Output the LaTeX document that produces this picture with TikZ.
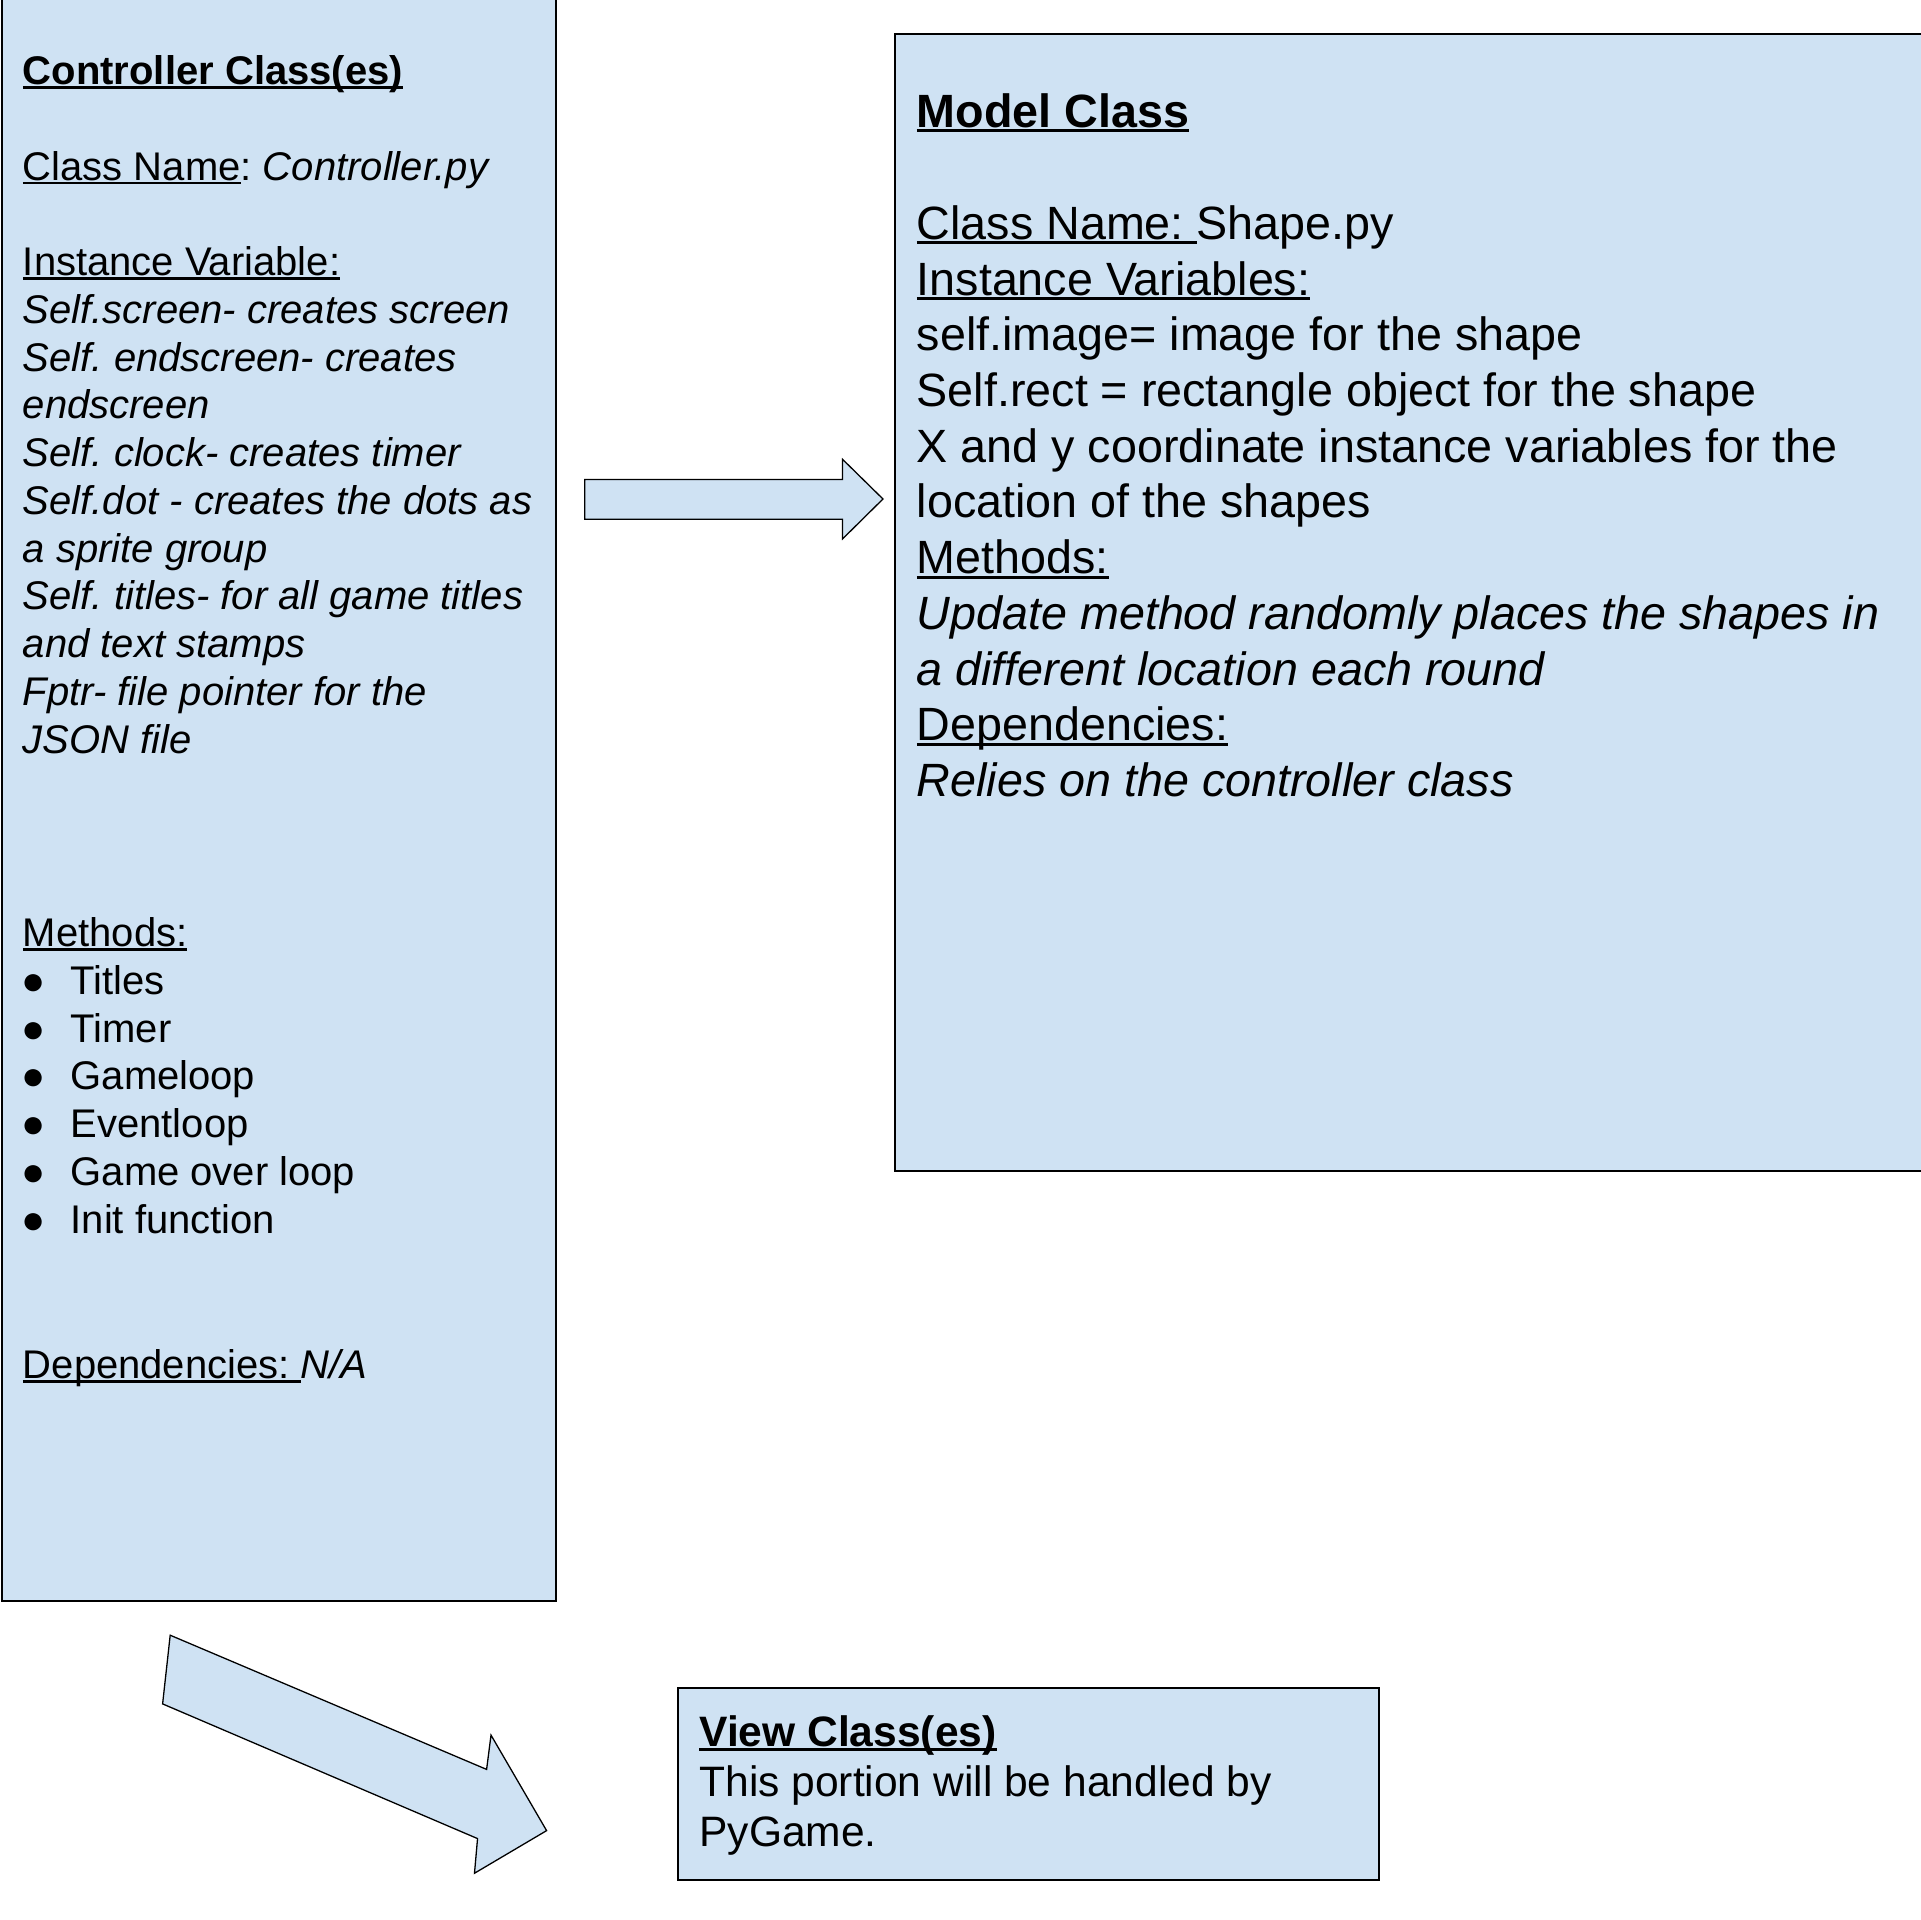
\documentclass[tikz,border=0pt]{standalone}
\usepackage{fontspec}
\setmainfont{Liberation Sans}
\definecolor{boxblue}{HTML}{CFE2F3}
\newcommand\myul[1]{\setbox0=\hbox{#1}\rlap{\rule[-0.105em]{\wd0}{0.065em}}\box0}
\tikzset{
  classbox/.style={draw=black, fill=boxblue, line width=0.45pt, rectangle, inner sep=0pt, anchor=north west},
  blockarrow/.style={draw=black, fill=boxblue, line width=0.3pt, line join=miter},
  ctext/.style={anchor=base west, inner sep=0pt, font=\fontsize{9.29}{11}\selectfont},
  mtext/.style={anchor=base west, inner sep=0pt, font=\fontsize{10.84}{13}\selectfont},
  vtext/.style={anchor=base west, inner sep=0pt, font=\fontsize{9.88}{12}\selectfont},
}
\frenchspacing
\begin{document}
\frenchspacing
\begin{tikzpicture}[x=0.01cm, y=-0.01cm]
\useasboundingbox (0,0) rectangle (1568,1568);
% boxes
\node[classbox, minimum width=4.52cm, minimum height=13.16cm] (ctrl) at (1,-10) {};
\node[classbox, minimum width=9.0cm, minimum height=9.28cm] (model) at (730,27) {};
\node[classbox, minimum width=5.723cm, minimum height=1.565cm] (view) at (552.7,1377.7) {};

% controller text
\node[ctext] (c1) at (18,69) {\textbf{\myul{Controller Class(es)}}};
\node[ctext] (c2) at (18,147) {\myul{Class Name}: \textit{Controller.py}};
\node[ctext] (c3) at (18,225) {\myul{Instance Variable:}};
\node[ctext] (c4) at (18,264) {\textit{Self.screen- creates screen}};
\node[ctext] (c5) at (18,303) {\textit{Self. endscreen- creates}};
\node[ctext] (c6) at (18,342) {\textit{endscreen}};
\node[ctext] (c7) at (18,381) {\textit{Self. clock- creates timer}};
\node[ctext] (c8) at (18,420) {\textit{Self.dot - creates the dots as}};
\node[ctext] (c9) at (18,459) {\textit{a sprite group}};
\node[ctext] (c10) at (18,498) {\textit{Self. titles- for all game titles}};
\node[ctext] (c11) at (18,537) {\textit{and text stamps}};
\node[ctext] (c12) at (18,576) {\textit{Fptr- file pointer for the}};
\node[ctext] (c13) at (18,615) {\textit{JSON file}};
\node[ctext] (c14) at (18,773) {\myul{Methods:}};
\foreach \y/\t [count=\i] in {812/Titles, 851/Timer, 890/Gameloop, 929/Eventloop, 968/Game over loop, 1007/Init function}{
  \node[ctext] (b\i) at (16.5,\y) {●};
  \node[ctext] (m\i) at (57,\y) {\t};
}
\node[ctext] (c15) at (18,1126) {\myul{Dependencies: }\textit{N/A}};

% model text
\node[mtext] (d1) at (748,104) {\textbf{\myul{Model Class}}};
\node[mtext] (d2) at (748,195.5) {\myul{Class Name: }Shape.py};
\node[mtext] (d3) at (748,241) {\myul{Instance Variables:}};
\node[mtext] (d4) at (748,286.5) {self.image= image for the shape};
\node[mtext] (d5) at (748,332) {Self.rect = rectangle object for the shape};
\node[mtext] (d6) at (748,377.5) {X and y coordinate instance variables for the};
\node[mtext] (d7) at (748,423) {location of the shapes};
\node[mtext] (d8) at (748,468.5) {\myul{Methods:}};
\node[mtext] (d9) at (748,514) {\textit{Update method randomly places the shapes in}};
\node[mtext] (d10) at (748,559.5) {\textit{a different location each round}};
\node[mtext] (d11) at (748,605) {\myul{Dependencies:}};
\node[mtext] (d12) at (748,650.5) {\textit{Relies on the controller class}};

% view text
\node[vtext] (v1) at (570.5,1426) {\textbf{\myul{View Class(es)}}};
\node[vtext] (v2) at (570.5,1467) {This portion will be handled by};
\node[vtext] (v3) at (570.5,1508) {PyGame.};

% right block arrow
\coordinate (ra1) at (477.6,391.6);
\coordinate (ra2) at (688.1,391.6);
\coordinate (ra3) at (688.1,375.1);
\coordinate (ratip) at (721.1,407.5);
\coordinate (ra5) at (688.1,440.1);
\coordinate (ra6) at (688.1,424.1);
\coordinate (ra7) at (477.6,424.1);
\draw[blockarrow] (ra1) -- (ra2) -- (ra3) -- (ratip) -- (ra5) -- (ra6) -- (ra7) -- cycle;

% diagonal block arrow
\coordinate (da1) at (139,1335.4);
\coordinate (da2) at (397.4,1445);
\coordinate (da3) at (401,1417);
\coordinate (datip) at (446.4,1495);
\coordinate (da5) at (387.5,1529.8);
\coordinate (da6) at (390,1501.5);
\coordinate (da7) at (132.8,1391.5);
\draw[blockarrow] (da1) -- (da2) -- (da3) -- (datip) -- (da5) -- (da6) -- (da7) -- cycle;
\end{tikzpicture}
\end{document}
